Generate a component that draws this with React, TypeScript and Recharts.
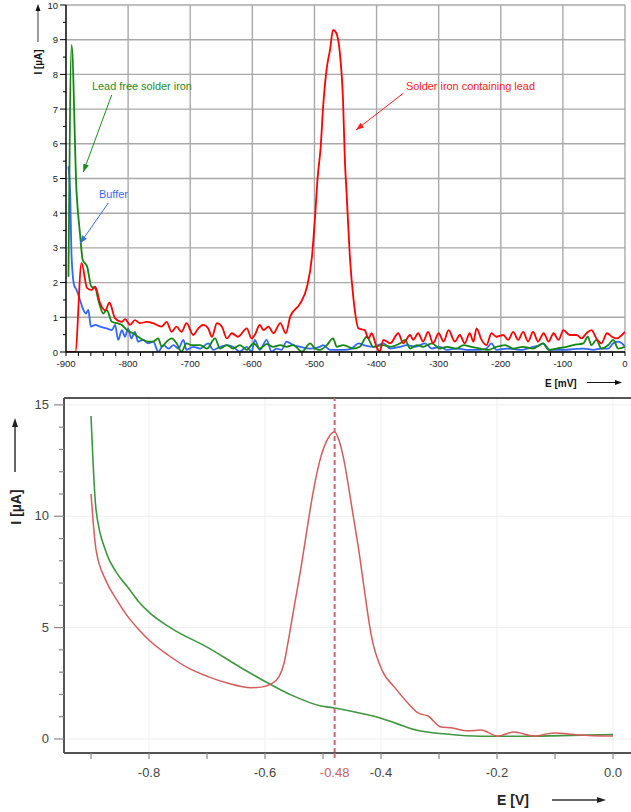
import React from "react";
import { LineChart, Line, XAxis, YAxis, CartesianGrid, ReferenceLine } from "recharts";

type Pt = { e: number; i: number };
const toPts = (arr: number[][]): Pt[] => arr.map(([e, i]) => ({ e, i }));

// ---- upper chart: E in mV, I in µA ----
const topXMajor = [-900, -800, -700, -600, -500, -400, -300, -200, -100, 0];
const topXTicks = [
  -900, -880, -860, -840, -820, -800, -780, -760, -740, -720, -700, -680, -660, -640, -620,
  -600, -580, -560, -540, -520, -500, -480, -460, -440, -420, -400, -380, -360, -340, -320,
  -300, -280, -260, -240, -220, -200, -180, -160, -140, -120, -100, -80, -60, -40, -20, 0,
];
const topYMajor = [0, 1, 2, 3, 4, 5, 6, 7, 8, 9, 10];
const topYTicks = [0, 0.5, 1, 1.5, 2, 2.5, 3, 3.5, 4, 4.5, 5, 5.5, 6, 6.5, 7, 7.5, 8, 8.5, 9, 9.5, 10];

const leadCurve = toPts([
  [-900, 0], [-885, 0], [-875, 2.57], [-866, 1.84], [-859, 1.79], [-853, 1.88], [-845, 1.4], [-837, 1.2],
  [-830, 1.42], [-821, 0.97], [-810, 0.87], [-805, 0.95], [-797, 0.78], [-789, 0.92], [-781, 0.83],
  [-770, 0.87], [-760, 0.83], [-746, 0.73], [-738, 0.87], [-730, 0.58], [-722, 0.73], [-714, 0.58],
  [-706, 0.83], [-695, 0.49], [-687, 0.68], [-679, 0.78], [-671, 0.68], [-665, 0.44], [-657, 0.83],
  [-649, 0.73], [-641, 0.39], [-633, 0.54], [-623, 0.44], [-609, 0.68], [-601, 0.39], [-596, 0.49],
  [-588, 0.78], [-582, 0.63], [-574, 0.73], [-566, 0.54], [-555, 0.83], [-546, 0.54], [-539, 1.02],
  [-523, 1.4], [-512, 1.88], [-504, 2.75], [-499, 3.9], [-495, 5.0], [-490, 5.9], [-486, 7.07],
  [-480, 8.2], [-475, 8.7], [-470, 9.28], [-465, 9.2], [-459, 8.6], [-454, 7.26], [-451, 5.53],
  [-448, 4.5], [-443, 2.75], [-437, 1.5], [-429, 0.68], [-419, 0.63], [-413, 0.39], [-408, 0.54],
  [-400, 0.15], [-395, 0.01], [-389, 0.35], [-378, 0.25], [-365, 0.54], [-357, 0.25], [-346, 0.49],
  [-341, 0.35], [-333, 0.54], [-325, 0.3], [-317, 0.58], [-309, 0.25], [-300, 0.54], [-292, 0.3],
  [-284, 0.63], [-274, 0.3], [-266, 0.49], [-258, 0.25], [-250, 0.54], [-244, 0.3], [-239, 0.68],
  [-231, 0.35], [-223, 0.2], [-215, 0.54], [-207, 0.44], [-196, 0.49], [-188, 0.35], [-180, 0.58],
  [-172, 0.35], [-164, 0.58], [-156, 0.3], [-148, 0.58], [-140, 0.3], [-131, 0.54], [-123, 0.3],
  [-115, 0.54], [-107, 0.35], [-99, 0.63], [-89, 0.49], [-78, 0.49], [-70, 0.39], [-62, 0.54],
  [-54, 0.63], [-46, 0.39], [-38, 0.25], [-29, 0.54], [-21, 0.44], [-13, 0.39], [-5, 0.49], [0, 0.58],
]);

const leadFreeCurve = toPts([
  [-896, 2.17], [-891, 8.85], [-883, 4.6], [-877.5, 3.42], [-873, 2.65], [-866, 2.46], [-859, 1.88],
  [-853, 1.84], [-848, 1.5], [-840, 1.11], [-834.5, 1.21], [-826, 0.87], [-818, 0.83], [-810, 0.78],
  [-802, 0.63], [-792, 0.54], [-784, 0.44], [-776, 0.35], [-767.5, 0.3], [-759.5, 0.3], [-751.5, 0.39],
  [-746, 0.15], [-738, 0.3], [-730, 0.39], [-722, 0.25], [-714, 0.01], [-706, 0.25], [-698, 0.2],
  [-684, 0.2], [-673, 0.1], [-660, 0.39], [-652, 0.1], [-641, 0.2], [-631, 0.1], [-620, 0.2],
  [-609, 0.06], [-598, 0.25], [-588, 0.1], [-577, 0.23], [-566, 0.15], [-555, 0.2], [-545, 0.15],
  [-534, 0.2], [-520, 0.01], [-507, 0.25], [-499, 0.1], [-491, 0.06], [-480, 0.2], [-470, 0.39],
  [-464, 0.15], [-453.5, 0.2], [-437.5, 0.1], [-427, 0.15], [-416, 0.44], [-405, 0.15], [-389, 0.2],
  [-378, 0.15], [-362, 0.25], [-354, 0.35], [-346, 0.1], [-335, 0.2], [-325, 0.15], [-311, 0.25],
  [-298, 0.1], [-287, 0.15], [-271, 0.1], [-260, 0.2], [-247, 0.15], [-233, 0.1], [-220, 0.06],
  [-207, 0.15], [-193, 0.2], [-180, 0.1], [-164, 0.15], [-148, 0.1], [-132, 0.25], [-123, 0.06],
  [-110, 0.1], [-94, 0.15], [-83, 0.2], [-67, 0.25], [-60, 0.44], [-54, 0.2], [-46, 0.35], [-38, 0.1],
  [-27, 0.2], [-19, 0.35], [-11, 0.1], [0, 0.15],
]);

const bufferCurve = toPts([
  [-896, 5.35], [-893.5, 4.67], [-891, 2.75], [-887, 1.93], [-883, 1.79], [-877.5, 1.5], [-872, 1.21],
  [-868, 1.11], [-864, 1.21], [-860, 0.73], [-853, 0.78], [-845, 0.73], [-834.5, 0.68], [-826, 0.63],
  [-821, 0.78], [-816, 0.35], [-810, 0.63], [-805, 0.44], [-800, 0.68], [-795, 0.39], [-789, 0.58],
  [-784, 0.3], [-776, 0.35], [-767.5, 0.25], [-759.5, 0.3], [-751.5, 0.01], [-743, 0.2], [-735, 0.1],
  [-727, 0.2], [-719, 0.1], [-711, 0.35], [-706, 0.06], [-695, 0.15], [-684, 0.1], [-671, 0.25],
  [-663, 0.06], [-652, 0.15], [-641, 0.2], [-631, 0.15], [-620, 0.01], [-609, 0.15], [-601, 0.01],
  [-596, 0.35], [-588, 0.06], [-577, 0.35], [-569, 0.01], [-561, 0.1], [-553, 0.06], [-545, 0.3],
  [-534, 0.2], [-523, 0.15], [-507, 0.1], [-491, 0.15], [-486, 0.2], [-475, 0.06], [-453.5, 0.06],
  [-440, 0.1], [-429, 0.25], [-421, 0.2], [-405, 0.15], [-389, 0.25], [-378, 0.1], [-362, 0.15],
  [-351.5, 0.2], [-338, 0.15], [-322, 0.25], [-311, 0.1], [-298, 0.15], [-287, 0.06], [-271, 0.1],
  [-255, 0.06], [-233, 0.06], [-223, 0.1], [-215, 0.25], [-207, 0.06], [-190, 0.1], [-169, 0.06],
  [-148, 0.15], [-137, 0.2], [-132, 0.25], [-121, 0.06], [-99, 0.06], [-83, 0.08], [-67, 0.1],
  [-51, 0.06], [-38, 0.1], [-27, 0.1], [-19, 0.25], [-11, 0.3], [-5, 0.25], [0, 0.15],
]);

// ---- lower chart: E in V, I in µA ----
const botXMajor = [-0.8, -0.6, -0.4, -0.2, 0.0];
const botXTicks = [-0.9, -0.8, -0.7, -0.6, -0.5, -0.48, -0.4, -0.3, -0.2, -0.1, 0.0];
const botYMajor = [0, 5, 10, 15];
const botYTicks = [0, 1, 2, 3, 4, 5, 6, 7, 8, 9, 10, 11, 12, 13, 14, 15];
const peakPotential = -0.48;
const botXDomain = [-0.9466, 0.031];
const botYDomain = [-0.63, 15.31];

const sampleCurve = toPts([
  [-0.9, 11.0], [-0.8914, 8.5], [-0.8741, 7.1], [-0.8569, 6.3], [-0.8362, 5.48], [-0.819, 4.95],
  [-0.7983, 4.4], [-0.7672, 3.77], [-0.7328, 3.19], [-0.6983, 2.8], [-0.6638, 2.5], [-0.6241, 2.3],
  [-0.6017, 2.35], [-0.5897, 2.47], [-0.5759, 2.8], [-0.5672, 3.4], [-0.5586, 4.6], [-0.55, 5.9],
  [-0.5379, 7.7], [-0.5259, 9.7], [-0.5155, 11.3], [-0.5034, 12.7], [-0.4914, 13.5], [-0.48, 13.8],
  [-0.4724, 13.4], [-0.4638, 12.5], [-0.4552, 11.2], [-0.4466, 9.8], [-0.4379, 8.4], [-0.4293, 6.8],
  [-0.4172, 4.7], [-0.3966, 3.0], [-0.3776, 2.35], [-0.3534, 1.6], [-0.3362, 1.17], [-0.319, 1.03],
  [-0.2966, 0.54], [-0.2793, 0.5], [-0.25, 0.37], [-0.2276, 0.4], [-0.1983, 0.13], [-0.1707, 0.31],
  [-0.1362, 0.13], [-0.1017, 0.27], [-0.0603, 0.18], [0.0, 0.13],
]);

const blankCurve = toPts([
  [-0.9, 14.5], [-0.8914, 10.3], [-0.8741, 8.4], [-0.8569, 7.5], [-0.8362, 6.8], [-0.819, 6.2],
  [-0.7983, 5.65], [-0.7621, 4.98], [-0.6983, 4.1], [-0.6414, 3.2], [-0.5983, 2.56], [-0.5552, 1.98],
  [-0.5034, 1.48], [-0.4828, 1.4], [-0.4431, 1.2], [-0.4086, 1.0], [-0.3741, 0.7], [-0.3397, 0.4],
  [-0.2879, 0.22], [-0.2276, 0.12], [-0.1586, 0.12], [-0.0897, 0.15], [0.0, 0.2],
]);

const FONT = "'Liberation Sans', Arial, sans-serif";

const TopXTick = (props: any) => {
  const { x, y, payload } = props;
  const v = payload.value;
  const major = topXMajor.includes(v);
  return (
    <g>
      <line x1={x} x2={x} y1={y} y2={y + 4} stroke="#000" strokeWidth={1} />
      {major && (
        <text x={x} y={y + 15} textAnchor="middle" fontSize={9.5} fill="#222" fontFamily={FONT}>
          {v}
        </text>
      )}
    </g>
  );
};

const TopYTick = (props: any) => {
  const { x, y, payload } = props;
  const v = payload.value;
  const major = topYMajor.includes(v);
  return (
    <g>
      <line x1={x - (major ? 6 : 3)} x2={x} y1={y} y2={y} stroke="#000" strokeWidth={1} />
      {major && (
        <text x={x - 8} y={y + 3.5} textAnchor="end" fontSize={9.5} fill="#222" fontFamily={FONT}>
          {v}
        </text>
      )}
    </g>
  );
};

const BotXTick = (props: any) => {
  const { x, y, payload } = props;
  const v = payload.value;
  if (v === peakPotential) {
    return (
      <g>
        <line x1={x} x2={x} y1={y} y2={y + 8} stroke="#c86a6a" strokeWidth={2} strokeDasharray="5 3" />
        <text x={x} y={y + 24} textAnchor="middle" fontSize={13} fill="#d06060" fontFamily={FONT}>
          {v.toFixed(2)}
        </text>
      </g>
    );
  }
  const major = botXMajor.includes(v);
  return (
    <g>
      <line x1={x} x2={x} y1={y} y2={y + 6} stroke="#888" strokeWidth={1.2} />
      {major && (
        <text x={x} y={y + 24} textAnchor="middle" fontSize={13} fill="#444" fontFamily={FONT}>
          {v.toFixed(1)}
        </text>
      )}
    </g>
  );
};

const BotYTick = (props: any) => {
  const { x, y, payload } = props;
  const v = payload.value;
  const major = botYMajor.includes(v);
  return (
    <g>
      <line x1={x - (major ? 10 : 5)} x2={x} y1={y} y2={y} stroke="#888" strokeWidth={1.2} />
      {major && (
        <text x={x - 15} y={y + 4} textAnchor="end" fontSize={13} fill="#444" fontFamily={FONT}>
          {v}
        </text>
      )}
    </g>
  );
};

const Overlay = () => (
  <svg width={631} height={812} style={{ position: "absolute", left: 0, top: 0, pointerEvents: "none" }}>
    <defs>
      <marker id="agreen" viewBox="0 0 8 6" refX="8" refY="3" markerWidth="8" markerHeight="6" markerUnits="userSpaceOnUse" orient="auto">
        <path d="M0,0 L8,3 L0,6 z" fill="#1f8a1f" />
      </marker>
      <marker id="ablue" viewBox="0 0 8 6" refX="8" refY="3" markerWidth="8" markerHeight="6" markerUnits="userSpaceOnUse" orient="auto">
        <path d="M0,0 L8,3 L0,6 z" fill="#3a6cf0" />
      </marker>
      <marker id="ared" viewBox="0 0 8 6" refX="8" refY="3" markerWidth="8" markerHeight="6" markerUnits="userSpaceOnUse" orient="auto">
        <path d="M0,0 L8,3 L0,6 z" fill="#ff2020" />
      </marker>
    </defs>
    {/* upper chart titles */}
    <text x={38} y={62} transform="rotate(-90 38 62)" textAnchor="middle" dominantBaseline="central"
      fontSize={10} fontWeight="bold" fill="#111" fontFamily={FONT}>I [µA]</text>
    <line x1={38} y1={42} x2={38} y2={11} stroke="#777" strokeWidth={1.5} />
    <polygon points="38,4 35.5,11 40.5,11" fill="#111" />
    <text x={545} y={386.5} fontSize={10} fontWeight="bold" fill="#111" fontFamily={FONT}>E [mV]</text>
    <line x1={587} y1={382.5} x2={616} y2={382.5} stroke="#111" strokeWidth={1} />
    <polygon points="622,382.5 615,380 615,385" fill="#111" />
    {/* upper chart annotations */}
    <text x={92} y={90} fontSize={10.9} fill="#1f8a1f" fontFamily={FONT}>Lead free solder iron</text>
    <line x1={111.7} y1={95} x2={83.3} y2={172} stroke="#1f8a1f" strokeWidth={1} markerEnd="url(#agreen)" />
    <text x={99} y={197.5} fontSize={10.9} fill="#3a6cf0" fontFamily={FONT}>Buffer</text>
    <line x1={108.3} y1={203} x2={80} y2={243.5} stroke="#3a6cf0" strokeWidth={1} markerEnd="url(#ablue)" />
    <text x={406} y={90} fontSize={10.9} fill="#ff2020" fontFamily={FONT}>Solder iron containing lead</text>
    <line x1={403.3} y1={93.3} x2={356} y2={130} stroke="#ff2020" strokeWidth={1} markerEnd="url(#ared)" />
    {/* lower chart titles */}
    <text x={16} y={507} transform="rotate(-90 16 507)" textAnchor="middle" dominantBaseline="central"
      fontSize={14} fontWeight="bold" fill="#222" fontFamily={FONT}>I [µA]</text>
    <line x1={15} y1={472} x2={15} y2={426} stroke="#333" strokeWidth={1.5} />
    <polygon points="15,418 12,427 18,427" fill="#222" />
    <text x={497} y={805} fontSize={14} fontWeight="bold" fill="#222" fontFamily={FONT}>E [V]</text>
    <line x1={552} y1={800} x2={598} y2={800} stroke="#333" strokeWidth={1.5} />
    <polygon points="606,800 597,797 597,803" fill="#222" />
  </svg>
);

export default function App() {
  return (
    <div style={{ position: "absolute", left: 0, top: 0, width: 631, height: 812, background: "#fff", fontFamily: FONT }}>
      <div style={{ position: "absolute", left: 0, top: 0 }}>
        <LineChart width={631} height={395} margin={{ top: 5, right: 6, left: 0, bottom: 0 }}>
          <CartesianGrid xAxisId="x" yAxisId="y" stroke="#a9a9a9" strokeWidth={1.4}
            horizontalValues={topYMajor} verticalValues={topXMajor} />
          <XAxis xAxisId="x" dataKey="e" type="number" domain={[-900, 0]} allowDataOverflow ticks={topXTicks}
            interval={0} height={43} tickSize={0} tickMargin={0} tickLine={false}
            axisLine={{ stroke: "#000", strokeWidth: 1.3 }} tick={<TopXTick />} />
          <YAxis yAxisId="y" type="number" domain={[0, 10]} allowDataOverflow ticks={topYTicks} interval={0}
            width={66} tickSize={0} tickMargin={0} tickLine={false}
            axisLine={{ stroke: "#000", strokeWidth: 1.3 }} tick={<TopYTick />} />
          <Line xAxisId="x" yAxisId="y" data={bufferCurve} dataKey="i" type="monotone" stroke="#3366ff"
            strokeWidth={1.8} dot={false} isAnimationActive={false} />
          <Line xAxisId="x" yAxisId="y" data={leadFreeCurve} dataKey="i" type="monotone" stroke="#138613"
            strokeWidth={1.8} dot={false} isAnimationActive={false} />
          <Line xAxisId="x" yAxisId="y" data={leadCurve} dataKey="i" type="monotone" stroke="#ff0000"
            strokeWidth={1.8} dot={false} isAnimationActive={false} />
        </LineChart>
      </div>
      <div style={{ position: "absolute", left: 0, top: 390 }}>
        <LineChart width={631} height={422} margin={{ top: 8, right: 0, left: 0, bottom: 0 }}>
          <CartesianGrid xAxisId="x" yAxisId="y" stroke="#efefef" strokeWidth={1}
            horizontalValues={botYMajor} verticalValues={botXMajor} />
          <XAxis xAxisId="x" dataKey="e" type="number" domain={botXDomain} allowDataOverflow ticks={botXTicks}
            interval={0} height={59} tickSize={0} tickMargin={0} tickLine={false}
            axisLine={{ stroke: "#555", strokeWidth: 2 }} tick={<BotXTick />} />
          <YAxis yAxisId="y" type="number" domain={botYDomain} allowDataOverflow ticks={botYTicks} interval={0}
            width={64} tickSize={0} tickMargin={0} tickLine={false}
            axisLine={{ stroke: "#555", strokeWidth: 2 }} tick={<BotYTick />} />
          <ReferenceLine xAxisId="x" yAxisId="y" y={botYDomain[1]} stroke="#555" strokeWidth={2} />
          <Line xAxisId="x" yAxisId="y" data={blankCurve} dataKey="i" type="monotone" stroke="#3f963f"
            strokeWidth={1.6} dot={false} isAnimationActive={false} />
          <Line xAxisId="x" yAxisId="y" data={sampleCurve} dataKey="i" type="monotone" stroke="#d45c5c"
            strokeWidth={1.5} dot={false} isAnimationActive={false} />
          <ReferenceLine xAxisId="x" yAxisId="y" x={peakPotential} stroke="#c86a6a" strokeWidth={2}
            strokeDasharray="5 3" />
        </LineChart>
      </div>
      <Overlay />
    </div>
  );
}
